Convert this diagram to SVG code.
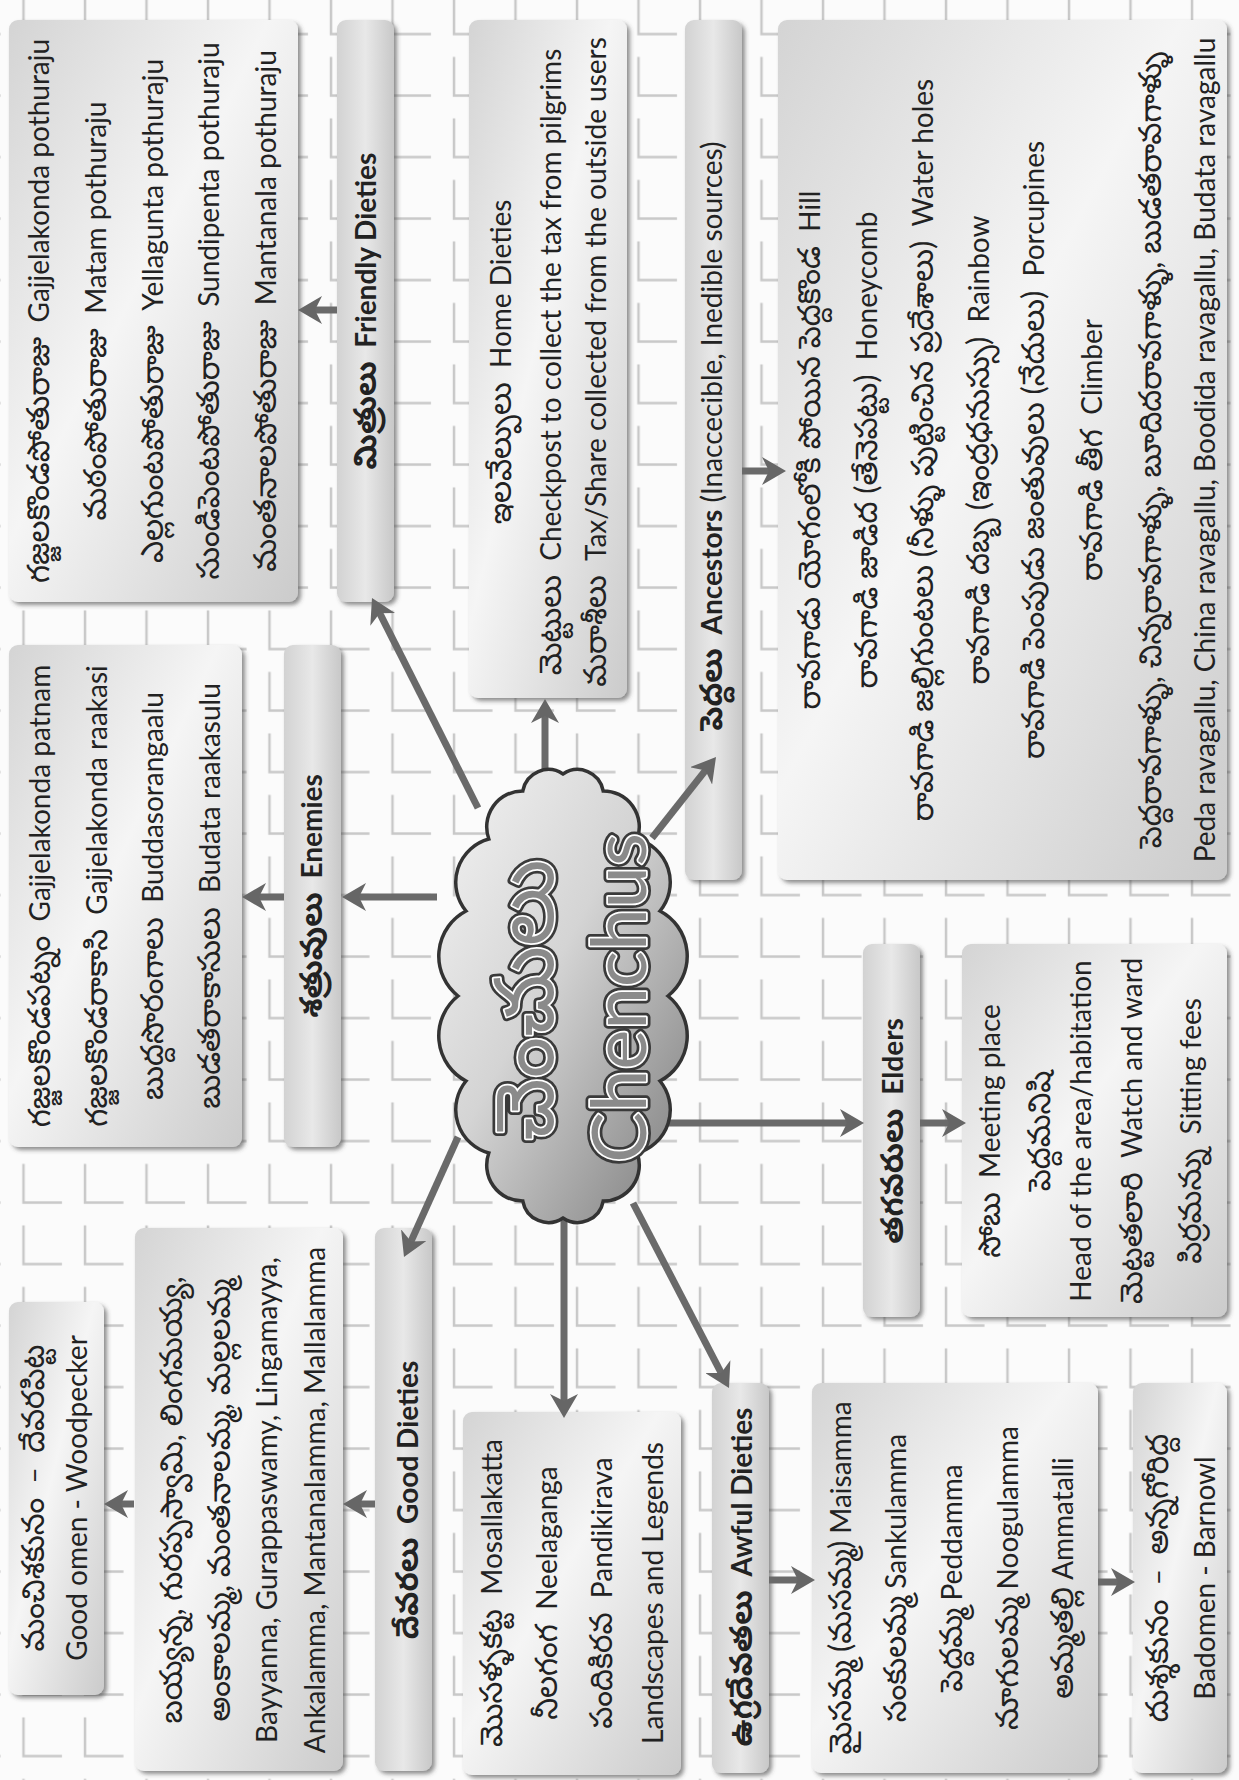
<svg xmlns="http://www.w3.org/2000/svg" width="1239" height="1780" viewBox="0 0 1239 1780">
<style>
.t{font-family:Lato,"Noto Sans Telugu","Noto Sans","DejaVu Sans",sans-serif;font-size:28px;fill:#222;text-anchor:middle}
.te{font-size:31px}
.b{font-weight:bold}
.box{fill:url(#gBox);filter:url(#sh)}
.lab{fill:url(#gLab);filter:url(#sh)}
.con{stroke:#6a6a6a;stroke-width:7;fill:none;marker-end:url(#ah)}
.big{font-family:Lato,"Noto Sans Telugu","Noto Sans",sans-serif;text-anchor:middle;stroke-linejoin:round}
</style>
<defs>
<pattern id="bg" patternUnits="userSpaceOnUse" x="13.5" y="-16" width="61.5" height="61.5">
<path d="M10,11.5 V50 H48.5" fill="none" stroke="#c8c8c8" stroke-width="2.5"/>
</pattern>
<linearGradient id="gBox" x1="0" y1="0" x2="1" y2="1">
<stop offset="0" stop-color="#d4d4d4"/>
<stop offset="0.45" stop-color="#f5f5f5"/>
<stop offset="0.7" stop-color="#e2e2e2"/>
<stop offset="1" stop-color="#cbcbcb"/>
</linearGradient>
<linearGradient id="gLab" x1="0" y1="0" x2="1" y2="0">
<stop offset="0" stop-color="#d2d2d2"/>
<stop offset="0.5" stop-color="#e8e8e8"/>
<stop offset="1" stop-color="#c8c8c8"/>
</linearGradient>
<linearGradient id="gCloud" x1="0" y1="0" x2="1" y2="1">
<stop offset="0" stop-color="#f4f4f4"/>
<stop offset="0.45" stop-color="#d4d4d4"/>
<stop offset="1" stop-color="#7a7a7a"/>
</linearGradient>
<filter id="sh" x="-10%" y="-10%" width="130%" height="130%">
<feDropShadow dx="3" dy="3" stdDeviation="2" flood-color="#444" flood-opacity="0.6"/>
</filter>
<marker id="ah" markerUnits="userSpaceOnUse" viewBox="0 0 24 28" markerWidth="24" markerHeight="28" refX="14" refY="14" orient="auto">
<path d="M0,0 L24,14 L0,28 L7,14 Z" fill="#666"/>
</marker>
</defs>
<rect width="1239" height="1780" fill="#fbfbfb"/>
<rect width="1239" height="1780" fill="url(#bg)"/>

<g id="friendly-list">
<rect class="box" x="9" y="20" width="289" height="582" rx="9"/>
<text class="t" transform="translate(49,311) rotate(-90)"><tspan class="te">గజ్జలకొండపోతురాజు</tspan>&#160; Gajjelakonda pothuraju</text>
<text class="t" transform="translate(106,311) rotate(-90)"><tspan class="te">మఠంపోతురాజు</tspan>&#160; Matam pothuraju</text>
<text class="t" transform="translate(163,311) rotate(-90)"><tspan class="te">ఎల్లగుంటపోతురాజు</tspan>&#160; Yellagunta pothuraju</text>
<text class="t" transform="translate(219,311) rotate(-90)"><tspan class="te">సుండిపెంటపోతురాజు</tspan>&#160; Sundipenta pothuraju</text>
<text class="t" transform="translate(276,311) rotate(-90)"><tspan class="te">మంతనాలపోతురాజు</tspan>&#160; Mantanala pothuraju</text>
</g>
<g id="friendly">
<rect class="lab" x="337" y="20" width="57" height="582" rx="9"/>
<text class="t b" transform="translate(376,311) rotate(-90)"><tspan class="te">మిత్రులు</tspan>&#160; Friendly Dieties</text>
</g>
<g id="enemies-list">
<rect class="box" x="9" y="645" width="233" height="502" rx="9"/>
<text class="t" transform="translate(50,896) rotate(-90)"><tspan class="te">గజ్జలకొండపట్నం</tspan>&#160; Gajjelakonda patnam</text>
<text class="t" transform="translate(107,896) rotate(-90)"><tspan class="te">గజ్జలకొండరాకాసి</tspan>&#160; Gajjelakonda raakasi</text>
<text class="t" transform="translate(163,896) rotate(-90)"><tspan class="te">బుద్దసొరంగాలు</tspan>&#160; Buddasorangaalu</text>
<text class="t" transform="translate(220,896) rotate(-90)"><tspan class="te">బుడతరాకాసులు</tspan>&#160; Budata raakasulu</text>
</g>
<g id="enemies">
<rect class="lab" x="284" y="645" width="57" height="502" rx="9"/>
<text class="t b" transform="translate(322,896) rotate(-90)"><tspan class="te">శత్రువులు</tspan>&#160; Enemies</text>
</g>
<g id="home-dieties">
<rect class="box" x="469" y="20" width="158" height="678" rx="9"/>
<text class="t" transform="translate(511,362) rotate(-90)"><tspan class="te">ఇలవేల్పులు</tspan>&#160; Home Dieties</text>
<text class="t" transform="translate(561,362) rotate(-90)"><tspan class="te">మెట్టులు</tspan>&#160; Checkpost to collect the tax from pilgrims</text>
<text class="t" transform="translate(606,362) rotate(-90)"><tspan class="te">మరాశీలు</tspan>&#160; Tax/Share collected from the outside users</text>
</g>
<g id="ancestors">
<rect class="lab" x="685" y="20" width="57" height="860" rx="9"/>
<text class="t" transform="translate(722,436) rotate(-90)"><tspan class="b"><tspan class="te">పెద్దలు</tspan>&#160; Ancestors</tspan> (Inaccecible, Inedible sources)</text>
</g>
<g id="ancestors-list">
<rect class="box" x="778" y="20" width="449" height="860" rx="9"/>
<text class="t" transform="translate(820,450) rotate(-90)"><tspan class="te">రావగాడు యోగంలోకి పోయిన పెద్దకొండ</tspan>&#160; Hill</text>
<text class="t" transform="translate(877,450) rotate(-90)"><tspan class="te">రావగాడి జాడిద (తేనెపట్టు)</tspan>&#160; Honeycomb</text>
<text class="t" transform="translate(933,450) rotate(-90)"><tspan class="te">రావగాడి జల్లిగుంటలు (నీళ్ళు పుట్టించిన ప్రదేశాలు)</tspan>&#160; Water holes</text>
<text class="t" transform="translate(989,450) rotate(-90)"><tspan class="te">రావగాడి దబ్బ (ఇంద్రధనుస్సు)</tspan>&#160; Rainbow</text>
<text class="t" transform="translate(1044,450) rotate(-90)"><tspan class="te">రావగాడి పెంపుడు జంతువులు (నేదులు)</tspan>&#160; Porcupines</text>
<text class="t" transform="translate(1102,450) rotate(-90)"><tspan class="te">రావగాడి తీగ</tspan>&#160; Climber</text>
<text class="t" transform="translate(1161,450) rotate(-90)"><tspan class="te">పెద్దరావగాళ్ళు, చిన్నరావగాళ్ళు, బూదిదరావగాళ్ళు, బుడతరావగాళ్ళు</tspan></text>
<text class="t" transform="translate(1215,450) rotate(-90)">Peda ravagallu, China ravagallu, Boodida ravagallu, Budata ravagallu</text>
</g>
<g id="elders">
<rect class="lab" x="863" y="944" width="57" height="373" rx="9"/>
<text class="t b" transform="translate(903,1131) rotate(-90)"><tspan class="te">తగవరులు</tspan>&#160; Elders</text>
</g>
<g id="elders-list">
<rect class="box" x="962" y="944" width="265" height="373" rx="9"/>
<text class="t" transform="translate(1000,1131) rotate(-90)"><tspan class="te">సోబు</tspan>&#160; Meeting place</text>
<text class="t" transform="translate(1050,1131) rotate(-90)"><tspan class="te">పెద్దమనిషి</tspan></text>
<text class="t" transform="translate(1091,1131) rotate(-90)">Head of the area/habitation</text>
<text class="t" transform="translate(1142,1131) rotate(-90)"><tspan class="te">మెట్టతలారి</tspan>&#160; Watch and ward</text>
<text class="t" transform="translate(1201,1131) rotate(-90)"><tspan class="te">పిర్రమన్ను</tspan>&#160; Sitting fees</text>
</g>
<g id="good-omen">
<rect class="box" x="9" y="1302" width="95" height="393" rx="9"/>
<text class="t" transform="translate(44,1498) rotate(-90)"><tspan class="te">మంచిశకునం</tspan>&#160; –&#160; <tspan class="te">దేవరపిట్ట</tspan></text>
<text class="t" transform="translate(87,1498) rotate(-90)">Good omen - Woodpecker</text>
</g>
<g id="good-list">
<rect class="box" x="135" y="1228" width="208" height="543" rx="9"/>
<text class="t" transform="translate(182,1500) rotate(-90)"><tspan class="te">బయ్యన్న, గురప్పస్వామి, లింగమయ్య,</tspan></text>
<text class="t" transform="translate(230,1500) rotate(-90)"><tspan class="te">అంకాలమ్మ, మంతనాలమ్మ, మల్లలమ్మ</tspan></text>
<text class="t" transform="translate(277,1500) rotate(-90)">Bayyanna, Gurappaswamy, Lingamayya,</text>
<text class="t" transform="translate(325,1500) rotate(-90)">Ankalamma, Mantanalamma, Mallalamma</text>
</g>
<g id="good-dieties">
<rect class="lab" x="375" y="1228" width="57" height="543" rx="9"/>
<text class="t b" transform="translate(418,1500) rotate(-90)"><tspan class="te">దేవరలు</tspan>&#160; Good Dieties</text>
</g>
<g id="landscapes">
<rect class="box" x="463" y="1412" width="218" height="363" rx="9"/>
<text class="t" transform="translate(502,1593) rotate(-90)"><tspan class="te">మొసళ్ళకట్ట</tspan>&#160; Mosallakatta</text>
<text class="t" transform="translate(557,1593) rotate(-90)"><tspan class="te">నీలగంగ</tspan>&#160; Neelaganga</text>
<text class="t" transform="translate(612,1593) rotate(-90)"><tspan class="te">పందికిరవ</tspan>&#160; Pandikirava</text>
<text class="t" transform="translate(663,1593) rotate(-90)">Landscapes and Legends</text>
</g>
<g id="awful-dieties">
<rect class="lab" x="712" y="1383" width="57" height="390" rx="9"/>
<text class="t b" transform="translate(752,1577) rotate(-90)"><tspan class="te">ఉగ్రదేవతలు</tspan>&#160; Awful Dieties</text>
</g>
<g id="awful-list">
<rect class="box" x="812" y="1383" width="286" height="390" rx="9"/>
<text class="t" transform="translate(851,1578) rotate(-90)"><tspan class="te">మైసమ్మ (మసమ్మ)</tspan> Maisamma</text>
<text class="t" transform="translate(906,1578) rotate(-90)"><tspan class="te">సంకులమ్మ</tspan> Sankulamma</text>
<text class="t" transform="translate(962,1578) rotate(-90)"><tspan class="te">పెద్దమ్మ</tspan> Peddamma</text>
<text class="t" transform="translate(1018,1578) rotate(-90)"><tspan class="te">నూగులమ్మ</tspan> Noogulamma</text>
<text class="t" transform="translate(1073,1578) rotate(-90)"><tspan class="te">అమ్మతల్లి</tspan> Ammatalli</text>
</g>
<g id="bad-omen">
<rect class="box" x="1133" y="1383" width="94" height="390" rx="9"/>
<text class="t" transform="translate(1168,1578) rotate(-90)"><tspan class="te">దుశ్శకునం</tspan>&#160; –&#160; <tspan class="te">అన్నగోరిద్ద</tspan></text>
<text class="t" transform="translate(1215,1578) rotate(-90)">Badomen - Barnowl</text>
</g>

<g id="connectors">
<line class="con" x1="478" y1="808" x2="376.5" y2="606.9"/>
<line class="con" x1="337" y1="310" x2="308" y2="310"/>
<line class="con" x1="437" y1="897" x2="352" y2="897"/>
<line class="con" x1="284" y1="897" x2="252" y2="897"/>
<line class="con" x1="545" y1="770" x2="545" y2="709"/>
<line class="con" x1="652" y1="838" x2="709.8" y2="764.9"/>
<line class="con" x1="742" y1="471" x2="776" y2="471"/>
<line class="con" x1="660" y1="1123" x2="854" y2="1123"/>
<line class="con" x1="920" y1="1123" x2="956" y2="1123"/>
<line class="con" x1="633" y1="1203" x2="724.4" y2="1379.1"/>
<line class="con" x1="769" y1="1580" x2="805" y2="1580"/>
<line class="con" x1="1098" y1="1582" x2="1125" y2="1582"/>
<line class="con" x1="564" y1="1205" x2="564" y2="1408"/>
<line class="con" x1="458" y1="1137" x2="408.1" y2="1247.9"/>
<line class="con" x1="375" y1="1504" x2="353" y2="1504"/>
<line class="con" x1="134" y1="1504" x2="114" y2="1504"/>
</g>

<g id="chenchus">
<path d="M668,996 A51,51 0 0 1 660,1081 A45,45 0 0 1 637.2,1153 A36,36 0 0 1 603.2,1201.1 A26,26 0 0 1 563,1218 A26,26 0 0 1 522.8,1201.1 A36,36 0 0 1 488.8,1153 A45,45 0 0 1 466,1081 A51,51 0 0 1 458,996 A51,51 0 0 1 466,911 A45,45 0 0 1 488.8,839 A36,36 0 0 1 522.8,790.9 A26,26 0 0 1 563,774 A26,26 0 0 1 603.2,790.9 A36,36 0 0 1 637.2,839 A45,45 0 0 1 660,911 A51,51 0 0 1 668,996 Z" fill="url(#gCloud)" stroke="#333" stroke-width="3.5"/>
<text class="big" font-size="82" transform="translate(553,1000) rotate(-90)" fill="none" stroke="#3a3a3a" stroke-width="9">చెంచులు</text>
<text class="big" font-size="82" transform="translate(553,1000) rotate(-90)" fill="#8a8a8a" stroke="#fff" stroke-width="3.5" paint-order="stroke">చెంచులు</text>
<text class="big" font-size="76" transform="translate(646,998) rotate(-90)" fill="none" stroke="#3a3a3a" stroke-width="9">Chenchus</text>
<text class="big" font-size="76" transform="translate(646,998) rotate(-90)" fill="#8a8a8a" stroke="#fff" stroke-width="3.5" paint-order="stroke">Chenchus</text>
</g>
</svg>
